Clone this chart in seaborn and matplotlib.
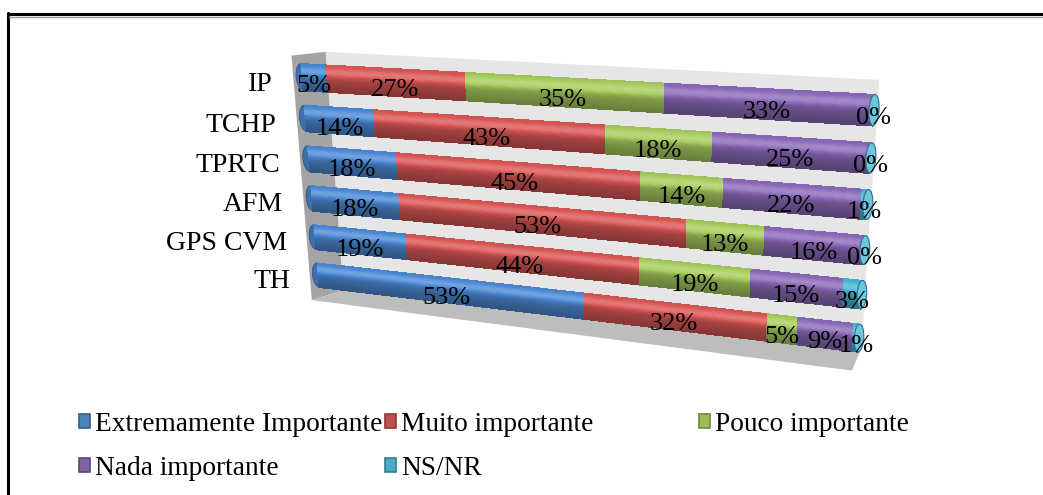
import numpy as np
import pandas as pd
import matplotlib
matplotlib.use("Agg")
import matplotlib.pyplot as plt
import seaborn as sns
from matplotlib.transforms import Transform, Affine2D
from matplotlib.patches import Rectangle, Ellipse, Polygon, Patch
from matplotlib.lines import Line2D
from matplotlib.colors import to_rgb

# ---- data -------------------------------------------------------------
categories = ["IP", "TCHP", "TPRTC", "AFM", "GPS CVM", "TH"]
series_names = ["Extremamente Importante", "Muito importante",
                "Pouco importante", "Nada importante", "NS/NR"]
extremamente = [5, 14, 18, 18, 19, 53]
muito = [27, 43, 45, 53, 44, 32]
pouco = [35, 18, 14, 13, 19, 5]
nada = [33, 25, 22, 16, 15, 9]
nsnr = [0, 0, 1, 0, 3, 1]
series = [extremamente, muito, pouco, nada, nsnr]

bar_colors = ["#4d8bd6", "#da5856", "#a8cd5e", "#8c6bba", "#48b8d6"]
legend_colors = ["#4F81BD", "#C0504D", "#9BBB59", "#8064A2", "#4BACC6"]
legend_edges = ["#385D8A", "#8C3836", "#71893F", "#5C4776", "#357D91"]

W, H = 1043, 495
BAR_W = 0.64


# ---- perspective projection for the 3-D look ----------------------------
def homography(src, dst):
    rows, rhs = [], []
    for (x, y), (u, v) in zip(src, dst):
        rows.append([x, y, 1, 0, 0, 0, -u * x, -u * y]); rhs.append(u)
        rows.append([0, 0, 0, x, y, 1, -v * x, -v * y]); rhs.append(v)
    h = np.linalg.lstsq(np.array(rows, float), np.array(rhs, float), rcond=None)[0]
    return np.append(h, 1.0).reshape(3, 3)


class Perspective(Transform):
    input_dims = output_dims = 2
    is_separable = False
    has_inverse = False

    def __init__(self, m):
        super().__init__()
        self.m = m

    def transform_non_affine(self, values):
        v = np.atleast_2d(np.asarray(values, float))
        p = np.hstack([v, np.ones((len(v), 1))]) @ self.m.T
        return p[:, :2] / p[:, 2:3]


sns.set_theme(style="white")
plt.rcParams["font.family"] = ["Liberation Serif", "DejaVu Serif"]
plt.rcParams["text.color"] = "black"

fig = plt.figure(figsize=(W / 100, H / 100), dpi=100)
ax = fig.add_axes([0, 0, 1, 1])

# stacked horizontal bars
left = np.zeros(len(categories))
for name, vals, col in zip(series_names, series, bar_colors):
    sns.barplot(x=vals, y=categories, left=left, color=col, orient="h",
                width=BAR_W, saturation=1, ax=ax)
    left = left + np.array(vals)

ax.set_xlim(0, 100)
ax.set_ylim(len(categories) - 0.5, -0.5)
ax.axis("off")

# anchor the flat chart to the tilted plane
flat = ax.transData.transform([(0, 0), (100, 0), (0, 5), (100, 5)])
tilted = np.array([(302, 77), (874, 110), (318, 275), (859, 338)], float)
tilted[:, 1] = H - tilted[:, 1]
warp = Perspective(homography(flat, tilted))
T = ax.transData + warp

bars = [p for p in ax.patches if isinstance(p, Rectangle)]

# walls and floor of the 3-D frame
walls = [
    ([(5.2, -0.63), (100.5, -0.62), (100.5, 5.22), (5.2, 5.33)], "#e6e6e6"),
    ([(-1.8, -0.50), (5.2, -0.63), (5.2, 5.33), (-1.8, 5.70)], "#a4a4a4"),
    ([(5.2, 5.33), (100.5, 5.22), (99.2, 5.78), (-1.8, 5.70)], "#bdbdbd"),
]
for pts, c in walls:
    ax.add_patch(Polygon(pts, closed=True, facecolor=c, edgecolor="none",
                         transform=T, clip_on=False, zorder=0.5))


def shade(rgb, t):
    f = 0.92 - 0.3 * t + 0.32 * np.exp(-((t - 0.3) / 0.18) ** 2)
    rgb = np.array(rgb)
    if f <= 1:
        return tuple(rgb * f)
    return tuple(np.clip(rgb + (1 - rgb) * (f - 1) * 1.3, 0, 1))


# cylinder shading on every bar segment
N = 32
for p in bars:
    x0, y0, w, h = p.get_x(), p.get_y(), p.get_width(), p.get_height()
    base = to_rgb(p.get_facecolor())
    p.set_transform(T)
    p.set_clip_on(False)
    p.set_edgecolor("none")
    p.set_zorder(2)
    if w <= 0:
        p.set_visible(False)
        continue
    for k in range(N):
        t = (k + 0.5) / N
        ax.add_patch(Rectangle((x0, y0 + k * h / N), w, h / N * 1.6,
                               facecolor=shade(base, t), edgecolor="none",
                               antialiased=False, transform=T,
                               clip_on=False, zorder=2.1))

# end caps of the cylinders
for j in range(len(categories)):
    first = next(i for i, s in enumerate(series) if s[j] > 0)
    lc = to_rgb(bar_colors[first])
    ax.add_patch(Ellipse((0, j), 2.4, BAR_W, facecolor=shade(lc, 0.55),
                         edgecolor=shade(lc, 1.0), lw=0.6, transform=T,
                         clip_on=False, zorder=1.9))
    cc = to_rgb(bar_colors[-1])
    ax.add_patch(Ellipse((100, j), 1.5, BAR_W, facecolor=shade(cc, 0.3),
                         edgecolor=shade(cc, 1.0), lw=0.8, transform=T,
                         clip_on=False, zorder=2.5))

# value labels
label_T = T + Affine2D().translate(0, -8)
for j in range(len(categories)):
    start = 0
    for s in series:
        v = s[j]
        ax.text(start + v / 2, j, f"{v}%", transform=label_T, ha="center",
                va="center", fontsize=19, color="black", zorder=5)
        start += v

# category labels
cat_T = T + Affine2D().translate(-4, -9)
for j, c in enumerate(categories):
    ax.text(-5.2, j, c, transform=cat_T, ha="right", va="center",
            fontsize=20, color="black", zorder=5)

# legend, three columns laid out left to right
cols = [[0, 3], [1, 4], [2]]
col_x = [79, 385, 699]
for xs, idx in zip(col_x, cols):
    handles = [Patch(facecolor=legend_colors[i], edgecolor=legend_edges[i], lw=1.2)
               for i in idx]
    fig.legend(handles, [series_names[i] for i in idx], loc="upper left",
               bbox_to_anchor=(xs / W, 1 - 412 / H), frameon=False,
               fontsize=19.7, handlelength=0.42, handleheight=0.42,
               handletextpad=0.17, labelspacing=0.68, borderpad=0,
               borderaxespad=0, labelcolor="black")

# outer frame
fig.add_artist(Line2D([8 / W, 8 / W], [0, 1 - 13 / H], color="black", lw=2.2,
                      transform=fig.transFigure))
fig.add_artist(Line2D([8 / W, 1], [1 - 14 / H, 1 - 14 / H], color="black", lw=2.2,
                      transform=fig.transFigure, solid_capstyle="butt"))
fig.add_artist(Line2D([9 / W, 1], [1 - 16.5 / H, 1 - 16.5 / H], color="#9a9a9a",
                      lw=1, transform=fig.transFigure))

fig.savefig("out.png", dpi=100, facecolor="white")
